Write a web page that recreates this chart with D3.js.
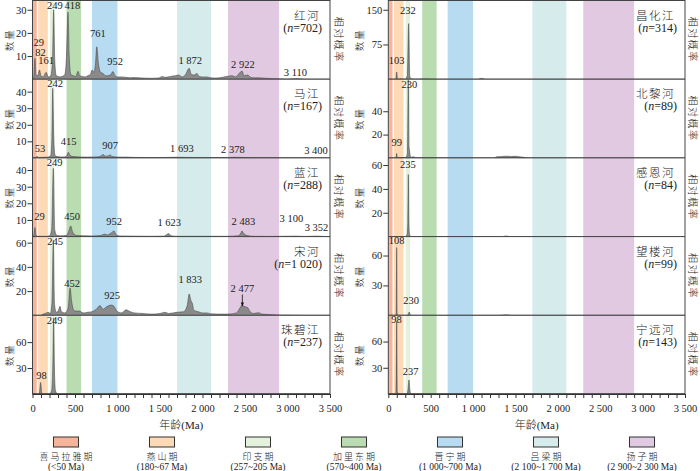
<!DOCTYPE html>
<html>
<head>
<meta charset="utf-8">
<script src="https://cdn.jsdelivr.net/npm/d3@7"></script>
<style>
  body { margin: 0; background: #fff; }
  text { font-family: "Liberation Serif", "Noto Sans CJK SC", serif; fill: #222; }
</style>
</head>
<body>
<div id="chart"></div>
<script>
// tectonic periods (bands + legend)
const bandNames = ["喜马拉雅期", "燕山期", "印支期", "加里东期", "晋宁期", "吕梁期", "扬子期"];
const bandRanges = ["(<50 Ma)", "(180~67 Ma)", "(257~205 Ma)", "(570~400 Ma)", "(1 000~700 Ma)", "(2 100~1 700 Ma)", "(2 900~2 300 Ma)"];
const bandStart = [0, 67, 205, 400, 700, 1700, 2300];
const bandEnd = [50, 180, 257, 570, 1000, 2100, 2900];
const bandColors = ["#f6b49b", "#fdd9b6", "#e4f1dc", "#b9dcb1", "#b7dcf1", "#d6ebeb", "#e1c9e1"];

const xTicks = [0, 500, 1000, 1500, 2000, 2500, 3000, 3500];

// left column rivers
const leftRivers = ["红河", "马江", "蓝江", "宋河", "珠碧江"];
const leftN = ["702", "167", "288", "1 020", "237"];
const leftYMax = [34, 47.5, 47.3, 65, 91];
const leftYTicks = [[10, 20, 30], [10, 20, 30, 40], [10, 20, 30, 40], [20, 40, 60], [30, 60]];

// right column rivers
const rightRivers = ["昌化江", "北黎河", "感恩河", "望楼河", "宁远河"];
const rightN = ["314", "89", "84", "99", "143"];
const rightYMax = [170, 67.5, 66, 79, 90];
const rightYTicks = [[75, 150], [20, 40], [20, 40, 60], [30, 60], [30, 60]];

// [age Ma, count]
const honghe = [[0,0],[15,1],[29,9],[40,2],[60,1.5],[82,4],[100,1.5],[125,1],[161,3],[185,1],[215,1.5],[235,8],[249,30],[262,8],[280,1.5],[320,1],[350,1.2],[380,2],[400,10],[418,29],[432,10],[450,2],[480,1.5],[510,1.2],[536,3.4],[555,1.5],[590,1.2],[620,1],[650,1.5],[680,2],[700,4],[720,3],[740,6],[756,14],[775,7],[800,3],[830,2.5],[860,1.5],[890,1.5],[920,2],[948,3.3],[970,1.5],[1000,1],[1050,1],[1100,0.8],[1150,0.6],[1200,0.7],[1300,0.5],[1400,0.4],[1480,0.5],[1530,1.2],[1560,0.8],[1620,1.2],[1680,1.5],[1720,1.8],[1760,1],[1800,2],[1843,4.7],[1870,2],[1900,1.8],[1935,2.5],[1960,1.2],[2000,1],[2050,1],[2100,0.6],[2150,0.5],[2200,0.6],[2280,1.2],[2350,1.5],[2390,1],[2420,2],[2464,3.5],[2490,1.5],[2530,1.8],[2560,1],[2600,0.6],[2650,0.6],[2700,0.5],[2800,0.3],[2900,0.2],[3000,0.1],[3110,0.3],[3200,0],[3500,0]];
const majiang = [[0,0],[40,0.3],[53,1],[70,0.3],[120,0.3],[180,0.5],[215,1.5],[228,12],[238,42],[250,12],[265,1.5],[290,0.8],[330,0.6],[380,0.6],[405,1.5],[422,3.4],[440,1.5],[480,0.8],[550,0.6],[650,0.5],[750,0.6],[800,1],[830,2],[860,1],[890,1.2],[913,1.8],[940,0.8],[1000,0.5],[1100,0.5],[1200,0.3],[1400,0.2],[1600,0.3],[1700,0.4],[1800,0.3],[2000,0.2],[2300,0.2],[2380,0.4],[2500,0.2],[2700,0.1],[3000,0.05],[3500,0]];
const lanjiang = [[0,0],[15,1],[29,5.4],[40,1],[60,0.2],[150,0.2],[200,0.5],[225,4],[245,41],[262,4],[285,0.8],[330,0.5],[400,0.8],[425,3],[450,6.4],[470,3],[500,1],[540,0.6],[600,0.5],[700,0.4],[800,0.6],[850,1.5],[880,1],[920,2],[960,3.4],[985,1],[1030,0.4],[1200,0.3],[1400,0.2],[1550,0.3],[1600,1.8],[1630,0.5],[1700,0.2],[2000,0.2],[2300,0.2],[2420,0.5],[2450,2],[2464,3.4],[2490,1.5],[2530,0.6],[2600,0.2],[2800,0.1],[3100,0.3],[3200,0.1],[3352,0.3],[3450,0],[3500,0]];
const songhe = [[0,0],[100,0],[124,1],[150,1.5],[183,2.5],[210,1.5],[228,10],[245,62],[258,10],[280,2.5],[305,4],[324,7.4],[340,3],[380,2],[420,6],[442,22.5],[460,12],[480,5],[510,3.5],[550,3.5],[600,2],[650,2.5],[700,3],[750,5],[795,8],[830,5],[870,7],[900,8],[925,8.5],[950,8],[980,5],[1000,3],[1050,2],[1100,4.5],[1150,3],[1200,2],[1300,1.5],[1400,1],[1500,1.5],[1560,2.5],[1600,1.5],[1700,2.5],[1780,3],[1820,8],[1843,17.6],[1865,12],[1880,10],[1900,4],[1950,3],[2000,2],[2050,2],[2100,1.2],[2200,1],[2300,1],[2400,2],[2440,6],[2464,8.2],[2500,7],[2530,6.5],[2560,3],[2600,1.5],[2660,2.2],[2700,1],[2800,0.6],[2900,0.3],[3000,0.2],[3200,0],[3500,0]];
const zhubijiang = [[0,0],[60,0],[80,1],[96,13.4],[110,1],[130,0],[200,0],[225,4],[238,30],[249,88],[258,30],[270,4],[290,0.5],[330,0],[3500,0]];
const changhuajiang = [[0,0],[80,0],[90,1.5],[99,15.7],[108,1.5],[120,0.5],[150,1.2],[170,0.5],[200,0.5],[225,8],[240,120],[252,8],[265,1.5],[290,0.5],[350,0.3],[430,0.8],[470,0.8],[520,0.2],[800,0],[1050,0],[1080,1.2],[1100,2],[1120,1.2],[1150,0],[3500,0]];
const beilihe = [[0,0],[85,0],[92,0.5],[99,3.8],[106,0.5],[120,0.3],[200,0.3],[225,3],[236,67],[243,10],[250,6.6],[258,2],[270,0.5],[300,1],[320,0.2],[1250,0],[1280,1],[1350,1.3],[1400,1.5],[1450,1.2],[1500,1.4],[1550,1],[1600,0.5],[1650,0],[3500,0]];
const ganenhe = [[0,0],[200,0],[222,2],[230,12],[236,52],[242,12],[250,2],[265,0],[1350,0],[1390,0.6],[1430,0],[3500,0]];
const wanglouhe = [[0,0],[85,0],[93,2],[99,68],[104,2],[112,0],[220,0],[236,1],[247,3.3],[256,1],[270,0],[1300,0],[1390,0.5],[1460,0],[3500,0]];
const ningyuanhe = [[0,0],[80,0],[92,3],[99,83],[106,3],[120,0.5],[150,0],[220,0],[232,5],[244,16],[254,5],[268,0],[3500,0]];

// peak labels: [text, age Ma, count]
const honghePeaks = [["29",73,14.2],["82",94,10.1],["161",159,6.5],["249",262,30.4],["418",468,30.4],["761",768,18.2],["952",972,6],["1 872",1856,6.5],["2 922",2475,4.7],["3 110",3094,1.3]];
const majiangPeaks = [["53",88,3.8],["242",265,42.6],["415",424,7.8],["907",913,5.4],["1 693",1758,3.8],["2 378",2357,2.8],["3 400",3335,2.4]];
const lanjiangPeaks = [["249",259,42.5],["29",82,9.9],["450",465,9.9],["952",960,6.9],["1 623",1609,6.3],["2 483",2481,6.9],["3 100",3046,8.9],["3 352",3341,3.5]];
const songhePeaks = [["245",265,58.2],["452",465,23.4],["925",937,13.5],["1 833",1856,26.7],["2 477",2469,19.3]];
const zhubijiangPeaks = [["249",259,80.4],["98",106,16.8]];
const changhuajiangPeaks = [["232",232,139.8],["103",97,32.3]];
const beilihePeaks = [["230",250,60.3],["99",99,10.3]];
const ganenhePeaks = [["235",232,57.3]];
const wanglouhePeaks = [["108",97,71.9],["230",268,11.1]];
const ningyuanhePeaks = [["98",97,81.5],["237",262,21.9]];

// arrow in 宋河 panel: [age, from count, to count]
const songheArrow = [2469, 17.2, 7.6];

const leftSeries = [honghe, majiang, lanjiang, songhe, zhubijiang];
const leftPeaks = [honghePeaks, majiangPeaks, lanjiangPeaks, songhePeaks, zhubijiangPeaks];
const rightSeries = [changhuajiang, beilihe, ganenhe, wanglouhe, ningyuanhe];
const rightPeaks = [changhuajiangPeaks, beilihePeaks, ganenhePeaks, wanglouhePeaks, ningyuanhePeaks];

const width = 700, height = 471;
const top0 = 0.5, panelH = 78.7;
const CJK = "Noto Sans CJK SC";

const svg = d3.select("#chart").append("svg")
    .attr("width", width)
    .attr("height", height);

const defs = svg.append("defs");
defs.append("marker")
    .attr("id", "arrow")
    .attr("viewBox", "0 -5 10 10")
    .attr("refX", 9)
    .attr("refY", 0)
    .attr("markerWidth", 5)
    .attr("markerHeight", 5)
    .attr("orient", "auto")
    .append("path")
    .attr("d", "M0,-4L10,0L0,4Z")
    .attr("fill", "#111");

let fmtAge = d => d >= 1000 ? Math.floor(d / 1000) + " " + String(d % 1000).padStart(3, "0") : String(d);

function column(colIdx, x0, x1, rivers, ns, ymaxes, yticks, series, peaks, nameX, yLabelX, probX) {
    let g = svg.append("g");
    let x = d3.scaleLinear().domain([0, 3500]).range([x0, x1]);
    let bottom = top0 + panelH * rivers.length;

    // period bands
    g.selectAll("rect.band")
        .data(bandStart)
        .join("rect")
        .attr("class", "band")
        .attr("x", d => x(d))
        .attr("width", (d, i) => x(bandEnd[i]) - x(d))
        .attr("y", top0)
        .attr("height", bottom - top0)
        .attr("fill", (d, i) => bandColors[i]);

    rivers.forEach((name, i) => {
        let pTop = top0 + i * panelH;
        let y = d3.scaleLinear().domain([0, ymaxes[i]]).range([pTop + panelH, pTop]);

        let clipId = `clip-${colIdx}-${i}`;
        defs.append("clipPath").attr("id", clipId)
            .append("rect")
            .attr("x", x0).attr("y", pTop)
            .attr("width", x1 - x0).attr("height", panelH);

        let area = d3.area()
            .x(d => x(d[0]))
            .y0(y(0))
            .y1(d => y(d[1]))
            .curve(d3.curveMonotoneX);

        g.append("path")
            .datum(series[i])
            .attr("clip-path", `url(#${clipId})`)
            .attr("d", area)
            .attr("fill", "#8a8a8a")
            .attr("stroke", "#3a3a3a")
            .attr("stroke-width", 0.5);

        // y axis
        let ax = g.append("g")
            .attr("transform", `translate(${x0},0)`)
            .call(d3.axisLeft(y).tickValues(yticks[i]).tickSize(5).tickPadding(1).tickSizeOuter(0));
        ax.select(".domain").remove();
        ax.selectAll("line").attr("stroke", "#333");
        ax.selectAll("text")
            .style("font-family", "Liberation Serif")
            .style("font-size", "10.5px")
            .attr("fill", "#222");

        // separator
        g.append("line")
            .attr("x1", x0).attr("x2", x1)
            .attr("y1", pTop + panelH).attr("y2", pTop + panelH)
            .attr("stroke", "#444").attr("stroke-width", 1);

        // peak labels
        g.selectAll(null)
            .data(peaks[i])
            .join("text")
            .attr("x", d => x(d[1]))
            .attr("y", d => y(d[2]))
            .attr("text-anchor", "middle")
            .style("font-size", "10.5px")
            .text(d => d[0]);

        // river name and n
        g.append("text")
            .attr("x", nameX - 2)
            .attr("y", pTop + 19)
            .attr("text-anchor", "end")
            .style("font-size", "11.5px")
            .style("font-weight", 300)
            .style("letter-spacing", "1.5px")
            .style("font-family", CJK)
            .attr("fill", "#333")
            .text(name);
        let nt = g.append("text")
            .attr("x", nameX)
            .attr("y", pTop + 31)
            .attr("text-anchor", "end")
            .style("font-size", "12px");
        nt.append("tspan").text("(");
        nt.append("tspan").style("font-style", "italic").text("n");
        nt.append("tspan").text("=" + ns[i] + ")");

        // axis titles
        let cy = pTop + panelH / 2;
        g.append("text")
            .attr("transform", `translate(${yLabelX},${cy}) rotate(-90)`)
            .attr("text-anchor", "middle")
            .attr("dominant-baseline", "central")
            .style("font-family", CJK)
            .style("font-weight", 300)
            .style("font-size", "9.5px")
            .style("letter-spacing", "2px")
            .attr("fill", "#555")
            .text("数量");
        g.append("text")
            .attr("transform", `translate(${probX},${cy}) rotate(90)`)
            .attr("text-anchor", "middle")
            .attr("dominant-baseline", "central")
            .style("font-family", CJK)
            .style("font-weight", 300)
            .style("font-size", "10px")
            .style("letter-spacing", "1.5px")
            .attr("fill", "#666")
            .text("相对概率");

        if (colIdx === 0 && name === "宋河") {
            g.append("line")
                .attr("x1", x(songheArrow[0])).attr("x2", x(songheArrow[0]))
                .attr("y1", y(songheArrow[1])).attr("y2", y(songheArrow[2]))
                .attr("stroke", "#111").attr("stroke-width", 0.8)
                .attr("marker-end", "url(#arrow)");
        }
    });

    // frame
    g.append("rect")
        .attr("x", x0).attr("y", top0)
        .attr("width", x1 - x0).attr("height", bottom - top0)
        .attr("fill", "none")
        .attr("stroke", "#444").attr("stroke-width", 1);

    // x axis
    let xa = g.append("g")
        .attr("transform", `translate(0,${bottom})`)
        .call(d3.axisBottom(x).ticks(35).tickSize(4).tickPadding(7).tickSizeOuter(0)
            .tickFormat(d => xTicks.includes(d) ? fmtAge(d) : ""));
    xa.select(".domain").attr("stroke", "#333");
    xa.selectAll("line").attr("stroke", "#333");
    xa.selectAll("text")
        .style("font-family", "Liberation Serif")
        .style("font-size", "10.5px")
        .attr("fill", "#222");

    let title = g.append("text")
        .attr("x", (x0 + x1) / 2)
        .attr("y", bottom + 35)
        .attr("text-anchor", "middle")
        .style("font-size", "11px")
        .attr("fill", "#333");
    title.append("tspan").style("font-family", CJK).style("font-weight", 300).text("年龄");
    title.append("tspan").text("(Ma)");
}

column(0, 32.5, 330, leftRivers, leftN, leftYMax, leftYTicks, leftSeries, leftPeaks, 322, 9, 339);
column(1, 388.3, 685, rightRivers, rightN, rightYMax, rightYTicks, rightSeries, rightPeaks, 677, 359, 693);

// legend
let legend = svg.append("g");
bandNames.forEach((name, i) => {
    let cx = 66 + i * 96;
    legend.append("rect")
        .attr("x", cx - 12.5).attr("y", 437)
        .attr("width", 25).attr("height", 10)
        .attr("fill", bandColors[i])
        .attr("stroke", "#333").attr("stroke-width", 1);
    legend.append("text")
        .attr("x", cx + 1).attr("y", 460)
        .attr("text-anchor", "middle")
        .style("font-family", CJK)
        .style("font-weight", 300)
        .style("font-size", "9px")
        .style("letter-spacing", "2px")
        .attr("fill", "#444")
        .text(name);
    legend.append("text")
        .attr("x", cx).attr("y", 469.5)
        .attr("text-anchor", "middle")
        .style("font-size", "9.5px")
        .attr("fill", "#333")
        .text(bandRanges[i]);
});
</script>
</body>
</html>
